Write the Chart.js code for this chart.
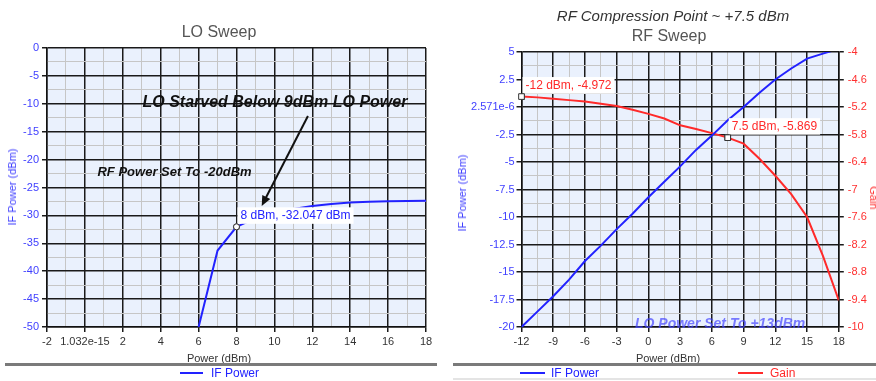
<!DOCTYPE html>
<html>
<head>
<meta charset="utf-8">
<title>LO / RF Sweep</title>
<script src="https://cdn.jsdelivr.net/npm/chart.js@4.4.0/dist/chart.umd.min.js"></script>
<style>
    body { margin: 0; background: #fff; font-family: "Liberation Sans", Arial, sans-serif; }
    #wrap { position: relative; width: 876px; height: 381px; overflow: hidden; }
    .box { position: absolute; top: 0; height: 381px; }
    .txt { position: absolute; white-space: nowrap; transform: translate(-50%, -50%); }
    .sep { position: absolute; height: 3px; background: #7a7a7a; }
    .key { position: absolute; height: 2px; }
    .lbl { position: absolute; white-space: nowrap; font-size: 12px; transform: translateY(-50%); }
</style>
</head>
<body>
<div id="wrap">
    <div class="box" style="left:0; width:440px;"><canvas id="loChart"></canvas></div>
    <div class="box" style="left:440px; width:436px;"><canvas id="rfChart"></canvas></div>

    <!-- LO sweep texts -->
    <div class="txt" style="left:219px; top:32px; font-size:16px; color:#555;">LO Sweep</div>
    <div class="txt" style="left:12px; top:187px; font-size:11px; color:#4040ff; transform:translate(-50%,-50%) rotate(-90deg);">IF Power (dBm)</div>
    <div class="txt" style="left:219px; top:358px; font-size:11px; color:#333;">Power (dBm)</div>
    <div class="sep" style="left:5px; top:363px; width:432px;"></div>
    <div class="key" style="left:180px; top:372px; width:23px; background:#2222ff;"></div>
    <div class="lbl" style="left:211px; top:373px; color:#2222ff;">IF Power</div>

    <!-- RF sweep texts -->
    <div class="txt" style="left:673px; top:15px; font-size:15px; font-style:italic; color:#333;">RF Compression Point ~ +7.5 dBm</div>
    <div class="txt" style="left:669px; top:36px; font-size:16px; color:#555;">RF Sweep</div>
    <div class="txt" style="left:462px; top:193px; font-size:11px; color:#4040ff; transform:translate(-50%,-50%) rotate(-90deg);">IF Power (dBm)</div>
    <div class="txt" style="left:874px; top:198px; font-size:11px; color:#ff3030; transform:translate(-50%,-50%) rotate(90deg);">Gain</div>
    <div class="txt" style="left:668px; top:358px; font-size:11px; color:#333;">Power (dBm)</div>
    <div class="sep" style="left:453px; top:363px; width:423px;"></div>
    <div class="key" style="left:520px; top:372px; width:25px; background:#2222ff;"></div>
    <div class="lbl" style="left:551px; top:373px; color:#2222ff;">IF Power</div>
    <div class="key" style="left:738px; top:372px; width:25px; background:#ff2a2a;"></div>
    <div class="lbl" style="left:770px; top:373px; color:#ff2a2a;">Gain</div>
    <div style="position:absolute; left:453px; top:378px; width:423px; height:2px; background:#e4e4e4;"></div>
</div>

<script>
// LO sweep (RF fixed at -20 dBm)
const loPower = [6, 7, 8, 9, 10, 11, 12, 13, 14, 15, 16, 17, 18];
const loIfPower = [-50, -36.3, -32.047, -30.5, -29.5, -28.85, -28.3, -27.95, -27.7, -27.55, -27.45, -27.4, -27.38];

// RF sweep (LO fixed at +13 dBm)
const rfPower = [-12, -10.5, -9, -7.5, -6, -4.5, -3, -1.5, 0, 1.5, 3, 4.5, 6, 7.5, 9, 10.5, 12, 13.5, 15, 16.5, 18];
const rfIfPower = [-20, -18.6, -17.2, -15.7, -14.0, -12.6, -11.1, -9.7, -8.2, -6.8, -5.4, -3.9, -2.6, -1.2, 0.0, 1.3, 2.5, 3.5, 4.4, 4.85, 5.3];
const rfGain = [-4.972, -4.99, -5.02, -5.05, -5.08, -5.13, -5.18, -5.26, -5.35, -5.45, -5.6, -5.68, -5.77, -5.869, -6.0, -6.33, -6.7, -7.1, -7.6, -8.45, -9.42];

// major tick labels (minor grid lines sit between them)
const loXLabels = ['-2', '1.032e-15', '2', '4', '6', '8', '10', '12', '14', '16', '18'];
const loYLabels = ['-50', '-45', '-40', '-35', '-30', '-25', '-20', '-15', '-10', '-5', '0'];
const rfXLabels = ['-12', '-9', '-6', '-3', '0', '3', '6', '9', '12', '15', '18'];
const rfYLabels = ['-20', '-17.5', '-15', '-12.5', '-10', '-7.5', '-5', '-2.5', '2.571e-6', '2.5', '5'];
const gainLabels = ['-10', '-9.4', '-8.8', '-8.2', '-7.6', '-7', '-6.4', '-5.8', '-5.2', '-4.6', '-4'];

const FONT = '"Liberation Sans", Arial, sans-serif';
const BLUE = '#2222ff';
const RED = '#ff2a2a';

function toPoints(xs, ys) {
    return xs.map((x, i) => ({ x: x, y: ys[i] }));
}

// plot area fill + text notes/arrows/point labels
const notesPlugin = {
    id: 'notes',
    beforeDraw(chart) {
        const a = chart.chartArea;
        const ctx = chart.ctx;
        ctx.save();
        ctx.fillStyle = '#eaf1fd';
        ctx.fillRect(a.left, a.top, a.right - a.left, a.bottom - a.top);
        ctx.restore();
    },
    afterDatasetsDraw(chart, args, opts) {
        const ctx = chart.ctx;
        const xs = chart.scales.x;
        ctx.save();
        (opts.labels || []).forEach(l => {
            const meta = chart.getDatasetMeta(l.ds);
            const pt = meta.data[l.index];
            ctx.font = '12px ' + FONT;
            const w = ctx.measureText(l.text).width;
            const tx = pt.x + 4, ty = pt.y - 11;
            ctx.fillStyle = '#fff';
            ctx.fillRect(tx - 3, ty - 8.5, w + 6, 16.5);
            ctx.fillStyle = l.color;
            ctx.textBaseline = 'middle';
            ctx.textAlign = 'left';
            ctx.fillText(l.text, tx, ty);
            // redraw marker above box edge
            pt.draw(ctx, chart.chartArea);
        });
        (opts.arrows || []).forEach(ar => {
            const ys = chart.scales[ar.axis || 'y'];
            const x1 = xs.getPixelForValue(ar.from[0]), y1 = ys.getPixelForValue(ar.from[1]);
            const x2 = xs.getPixelForValue(ar.to[0]), y2 = ys.getPixelForValue(ar.to[1]);
            const ang = Math.atan2(y2 - y1, x2 - x1);
            ctx.strokeStyle = '#111';
            ctx.fillStyle = '#111';
            ctx.lineWidth = 2;
            ctx.beginPath();
            ctx.moveTo(x1, y1);
            ctx.lineTo(x2 - 6 * Math.cos(ang), y2 - 6 * Math.sin(ang));
            ctx.stroke();
            ctx.beginPath();
            ctx.moveTo(x2, y2);
            ctx.lineTo(x2 - 10 * Math.cos(ang) + 4.5 * Math.sin(ang), y2 - 10 * Math.sin(ang) - 4.5 * Math.cos(ang));
            ctx.lineTo(x2 - 10 * Math.cos(ang) - 4.5 * Math.sin(ang), y2 - 10 * Math.sin(ang) + 4.5 * Math.cos(ang));
            ctx.closePath();
            ctx.fill();
        });
        (opts.texts || []).forEach(t => {
            const ys = chart.scales[t.axis || 'y'];
            ctx.font = t.font;
            ctx.fillStyle = t.color;
            ctx.textAlign = 'center';
            ctx.textBaseline = 'middle';
            ctx.fillText(t.text, xs.getPixelForValue(t.x), ys.getPixelForValue(t.y));
        });
        ctx.restore();
    }
};

function gridAxis(min, max, step, labels, color, extra) {
    return Object.assign({
        type: 'linear',
        min: min,
        max: max,
        ticks: {
            stepSize: step,
            autoSkip: false,
            maxRotation: 0,
            color: color,
            font: { family: FONT, size: 11 },
            callback: (v, i) => (i % 2 === 0 ? labels[i / 2] : '')
        },
        grid: {
            color: c => (c.index % 2 === 0 ? '#1a1a1a' : '#c6c6c6'),
            lineWidth: c => (c.index % 2 === 0 ? 1.5 : 1),
            tickColor: c => (c.index % 2 === 0 ? '#1a1a1a' : 'rgba(0,0,0,0)'),
            tickLength: 5
        },
        border: { color: '#111', width: 1.5 }
    }, extra || {});
}

function fixSize(prop, size) {
    return scale => { scale[prop] = size; };
}

function markerRadius(indexes, r) {
    return c => (indexes.indexOf(c.dataIndex) >= 0 ? r : 0);
}

const loChart = new Chart(document.getElementById('loChart'), {
    type: 'line',
    data: {
        datasets: [{
            label: 'IF Power',
            data: toPoints(loPower, loIfPower),
            borderColor: BLUE,
            borderWidth: 2,
            tension: 0,
            pointRadius: markerRadius([2], 3),
            pointHoverRadius: 0,
            pointBackgroundColor: '#fff',
            pointBorderColor: '#333',
            pointBorderWidth: 1
        }]
    },
    options: {
        responsive: true,
        maintainAspectRatio: false,
        animation: false,
        layout: { padding: { top: 48, right: 14, left: 0, bottom: 0 } },
        plugins: {
            legend: { display: false },
            tooltip: { enabled: false },
            notes: {
                labels: [{ ds: 0, index: 2, text: '8 dBm, -32.047 dBm', color: BLUE }],
                arrows: [{ from: [11.77, -12.2], to: [9.33, -28.3] }],
                texts: [
                    { x: 10.03, y: -9.73, text: 'LO Starved Below 9dBm LO Power', font: 'italic bold 16px ' + FONT, color: '#111' },
                    { x: 4.73, y: -22.35, text: 'RF Power Set To -20dBm', font: 'italic bold 13px ' + FONT, color: '#111' }
                ]
            }
        },
        scales: {
            x: gridAxis(-2, 18, 1, loXLabels, '#333', { afterFit: fixSize('height', 54) }),
            y: gridAxis(-50, 0, 2.5, loYLabels, '#4040ff', { afterFit: fixSize('width', 47) })
        }
    },
    plugins: [notesPlugin]
});

const rfChart = new Chart(document.getElementById('rfChart'), {
    type: 'line',
    data: {
        datasets: [{
            label: 'IF Power',
            data: toPoints(rfPower, rfIfPower),
            yAxisID: 'y',
            borderColor: BLUE,
            borderWidth: 2,
            tension: 0,
            pointRadius: 0,
            pointHoverRadius: 0
        }, {
            label: 'Gain',
            data: toPoints(rfPower, rfGain),
            yAxisID: 'y2',
            borderColor: RED,
            borderWidth: 2,
            tension: 0,
            pointStyle: 'rect',
            pointRadius: markerRadius([0, 13], 4),
            pointHoverRadius: 0,
            pointBackgroundColor: '#fff',
            pointBorderColor: '#333',
            pointBorderWidth: 1
        }]
    },
    options: {
        responsive: true,
        maintainAspectRatio: false,
        animation: false,
        layout: { padding: { top: 52, right: 0, left: 0, bottom: 0 } },
        plugins: {
            legend: { display: false },
            tooltip: { enabled: false },
            notes: {
                labels: [
                    { ds: 1, index: 0, text: '-12 dBm, -4.972', color: RED },
                    { ds: 1, index: 13, text: '7.5 dBm, -5.869', color: RED }
                ],
                texts: [
                    { x: 6.78, y: -19.75, text: 'LO Power Set To +13dBm', font: 'italic bold 14px ' + FONT, color: 'rgba(70,70,255,0.7)' }
                ]
            }
        },
        scales: {
            x: gridAxis(-12, 18, 1.5, rfXLabels, '#333', { afterFit: fixSize('height', 54) }),
            y: gridAxis(-20, 5, 1.25, rfYLabels, '#4040ff', { afterFit: fixSize('width', 81.5) }),
            y2: gridAxis(-10, -4, 0.3, gainLabels, '#ff3030', {
                position: 'right',
                afterFit: fixSize('width', 37.2)
            })
        }
    },
    plugins: [notesPlugin]
});

// gain axis shares the grid of the IF axis
rfChart.options.scales.y2.grid.drawOnChartArea = false;
rfChart.options.scales.y2.ticks.padding = 4;
rfChart.options.scales.y.ticks.padding = 2;
rfChart.update('none');
</script>
</body>
</html>
